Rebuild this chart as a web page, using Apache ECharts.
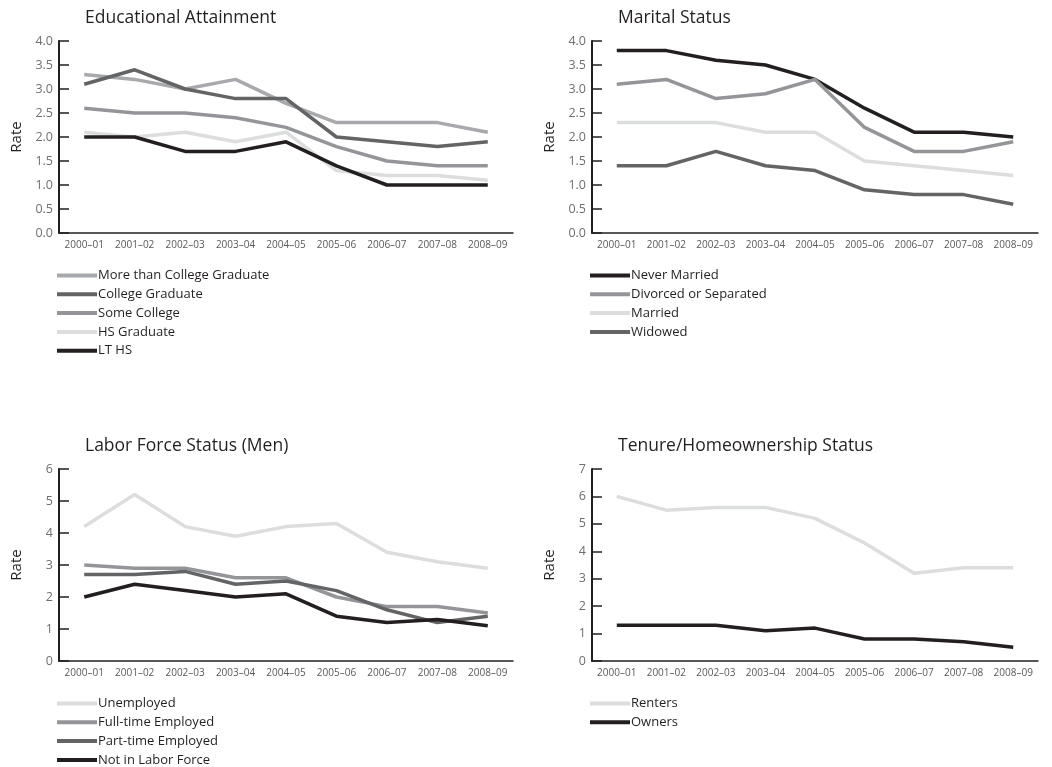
<!DOCTYPE html>
<html>
<head>
<meta charset="utf-8">
<script src="https://cdn.jsdelivr.net/npm/echarts@6/dist/echarts.min.js"></script>
<style>
  html, body { margin: 0; padding: 0; background: #ffffff; }
  #chart { width: 1052px; height: 767px; }
</style>
</head>
<body>
<div id="chart"></div>
<script>
// School years shared by all four panels
const years = ['2000\u201301', '2001\u201302', '2002\u201303', '2003\u201304', '2004\u201305',
               '2005\u201306', '2006\u201307', '2007\u201308', '2008\u201309'];

// Educational Attainment
const eduMoreThanCollege = [3.3, 3.2, 3.0, 3.2, 2.7, 2.3, 2.3, 2.3, 2.1];
const eduCollegeGrad     = [3.1, 3.4, 3.0, 2.8, 2.8, 2.0, 1.9, 1.8, 1.9];
const eduSomeCollege     = [2.6, 2.5, 2.5, 2.4, 2.2, 1.8, 1.5, 1.4, 1.4];
const eduHSGrad          = [2.1, 2.0, 2.1, 1.9, 2.1, 1.3, 1.2, 1.2, 1.1];
const eduLTHS            = [2.0, 2.0, 1.7, 1.7, 1.9, 1.4, 1.0, 1.0, 1.0];

// Marital Status
const marNever    = [3.8, 3.8, 3.6, 3.5, 3.2, 2.6, 2.1, 2.1, 2.0];
const marDivorced = [3.1, 3.2, 2.8, 2.9, 3.2, 2.2, 1.7, 1.7, 1.9];
const marMarried  = [2.3, 2.3, 2.3, 2.1, 2.1, 1.5, 1.4, 1.3, 1.2];
const marWidowed  = [1.4, 1.4, 1.7, 1.4, 1.3, 0.9, 0.8, 0.8, 0.6];

// Labor Force Status (Men)
const labUnemployed = [4.2, 5.2, 4.2, 3.9, 4.2, 4.3, 3.4, 3.1, 2.9];
const labFullTime   = [3.0, 2.9, 2.9, 2.6, 2.6, 2.0, 1.7, 1.7, 1.5];
const labPartTime   = [2.7, 2.7, 2.8, 2.4, 2.5, 2.2, 1.6, 1.2, 1.4];
const labNotInLF    = [2.0, 2.4, 2.2, 2.0, 2.1, 1.4, 1.2, 1.3, 1.1];

// Tenure/Homeownership Status
const tenRenters = [6.0, 5.5, 5.6, 5.6, 5.2, 4.3, 3.2, 3.4, 3.4];
const tenOwners  = [1.3, 1.3, 1.3, 1.1, 1.2, 0.8, 0.8, 0.7, 0.5];

// Panel titles and y-axis ranges
const panelTitles = ['Educational Attainment', 'Marital Status', 'Labor Force Status (Men)', 'Tenure/Homeownership Status'];
const yMax = [4, 4, 6, 7];
const yStep = [0.5, 0.5, 1, 1];

const FONT = '"Open Sans", "Noto Sans", sans-serif';
const INK = '#231f20';
const C_BLACK = '#231f20', C_DARK = '#636466', C_MID = '#939598', C_LIGHT = '#a7a9ac', C_PALE = '#dcdddf';

const panels = [
  { left: 59,  top: 41,  width: 454, series: [
      ['More than College Graduate', eduMoreThanCollege, C_LIGHT],
      ['College Graduate', eduCollegeGrad, C_DARK],
      ['Some College', eduSomeCollege, C_MID],
      ['HS Graduate', eduHSGrad, C_PALE],
      ['LT HS', eduLTHS, C_BLACK]], legendTop: 264 },
  { left: 592, top: 41,  width: 446, series: [
      ['Never Married', marNever, C_BLACK],
      ['Divorced or Separated', marDivorced, C_MID],
      ['Married', marMarried, C_PALE],
      ['Widowed', marWidowed, C_DARK]], legendTop: 264 },
  { left: 59,  top: 469, width: 454, series: [
      ['Unemployed', labUnemployed, C_PALE],
      ['Full-time Employed', labFullTime, C_MID],
      ['Part-time Employed', labPartTime, C_DARK],
      ['Not in Labor Force', labNotInLF, C_BLACK]], legendTop: 692 },
  { left: 592, top: 469, width: 446, series: [
      ['Renters', tenRenters, C_PALE],
      ['Owners', tenOwners, C_BLACK]], legendTop: 692 }
];

const option = {
  backgroundColor: '#ffffff',
  animation: false,
  title: [], grid: [], xAxis: [], yAxis: [], legend: [], series: []
};

panels.forEach((p, i) => {
  option.title.push({
    text: panelTitles[i], left: p.left + 21, top: p.top - 37,
    textStyle: { fontFamily: FONT, fontSize: 17.5, fontWeight: 'normal', color: INK }
  });
  option.grid.push({ left: p.left, top: p.top, width: p.width, height: 192 });
  option.xAxis.push({
    type: 'category', gridIndex: i, data: years, boundaryGap: true,
    axisLine: { lineStyle: { color: INK, width: 1.5 } },
    axisTick: { alignWithLabel: true, inside: true, length: 4, lineStyle: { color: INK, width: 1.5 } },
    axisLabel: { interval: 0, fontFamily: FONT, fontSize: 10, color: '#58595b', margin: 7 }
  });
  option.yAxis.push({
    type: 'value', gridIndex: i, min: 0, max: yMax[i], interval: yStep[i],
    name: 'Rate', nameLocation: 'middle', nameGap: 35, nameRotate: 90,
    nameTextStyle: { fontFamily: FONT, fontSize: 15, color: INK },
    splitLine: { show: false },
    axisLine: { show: true, lineStyle: { color: INK, width: 2 } },
    axisTick: { show: true, inside: true, length: 10, lineStyle: { color: INK, width: 1.5 } },
    axisLabel: {
      fontFamily: FONT, fontSize: 12.5, color: '#6d6e71', margin: 6,
      formatter: v => yStep[i] < 1 ? v.toFixed(1) : String(v)
    }
  });
  option.legend.push({
    orient: 'vertical', left: p.left - 7, top: p.legendTop, height: 200,
    itemWidth: 40, itemHeight: 4, itemGap: 5.8, icon: 'rect',
    data: p.series.map(s => s[0]),
    textStyle: { fontFamily: FONT, fontSize: 13, color: INK, lineHeight: 13, padding: [0, 0, 0, -4] }
  });
  p.series.forEach(s => {
    option.series.push({
      name: s[0], type: 'line', xAxisIndex: i, yAxisIndex: i,
      data: s[1], symbol: 'none', color: s[2],
      lineStyle: { width: 3.5, color: s[2] }
    });
  });
});

echarts.init(document.getElementById('chart'), null, { renderer: 'canvas' }).setOption(option);
</script>
</body>
</html>
